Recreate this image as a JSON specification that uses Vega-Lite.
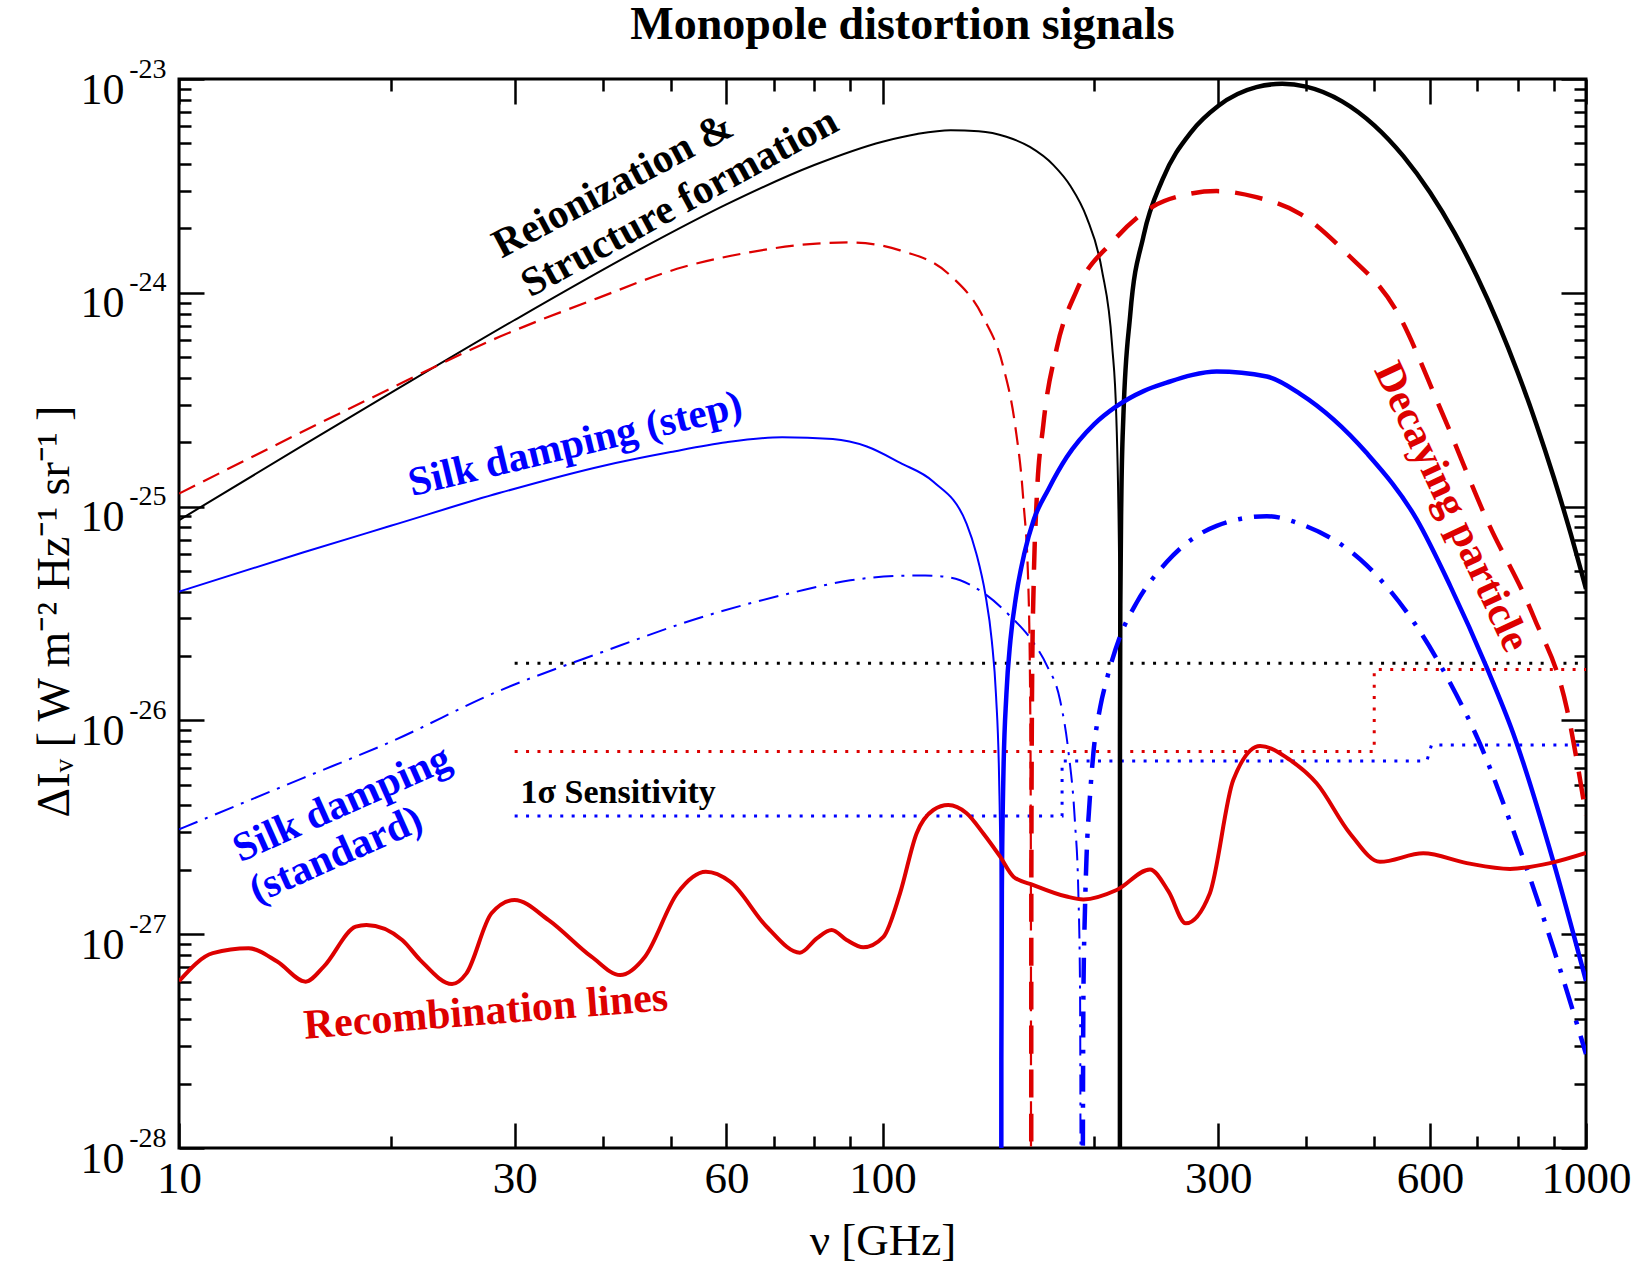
{
  "$schema": "https://vega.github.io/schema/vega-lite/v6.json",
  "width": 1407,
  "height": 1069,
  "autosize": {"type": "none"},
  "padding": {"left": 179, "top": 79, "right": 66, "bottom": 129},
  "background": "white",
  "config": {
    "view": {"stroke": "black", "strokeWidth": 3},
    "font": "Liberation Serif",
    "axis": {"domain": false, "grid": false, "tickColor": "black", "tickWidth": 2.5, "labelFont": "Liberation Serif", "labelColor": "black", "titleFont": "Liberation Serif", "titleColor": "black", "titleFontWeight": "normal", "labelOverlap": false, "labelFlush": false, "labelBound": false}
  },
  "title": {"text": "Monopole distortion signals", "font": "Liberation Serif", "fontSize": 46, "fontWeight": "bold", "color": "black", "anchor": "middle", "baseline": "alphabetic", "offset": 16, "dx": 20, "dy": 46},
  "datasets": {
    "sens_black": [{"nu": 30, "dI": 1.85e-26}, {"nu": 1000, "dI": 1.85e-26}],
    "sens_red": [{"i": 0, "nu": 30, "dI": 7.15e-27}, {"i": 1, "nu": 500, "dI": 7.15e-27}, {"i": 2, "nu": 500, "dI": 1.73e-26}, {"i": 3, "nu": 1000, "dI": 1.73e-26}],
    "sens_blue": [{"i": 0, "nu": 30, "dI": 3.57e-27}, {"i": 1, "nu": 180, "dI": 3.57e-27}, {"i": 2, "nu": 180, "dI": 6.46e-27}, {"i": 3, "nu": 594, "dI": 6.46e-27}, {"i": 4, "nu": 603, "dI": 7.67e-27}, {"i": 5, "nu": 1000, "dI": 7.67e-27}],
    "black_thin": [{"nu": 10, "dI": 8.64e-26}, {"nu": 15, "dI": 1.932e-25}, {"nu": 20, "dI": 3.40e-25}, {"nu": 30, "dI": 7.46e-25}, {"nu": 45, "dI": 1.583e-24}, {"nu": 60, "dI": 2.59e-24}, {"nu": 80, "dI": 3.96e-24}, {"nu": 100, "dI": 5.09e-24}, {"nu": 112, "dI": 5.53e-24}, {"nu": 125, "dI": 5.76e-24}, {"nu": 137, "dI": 5.70e-24}, {"nu": 150, "dI": 5.37e-24}, {"nu": 162, "dI": 4.81e-24}, {"nu": 175, "dI": 3.956e-24}, {"nu": 185, "dI": 3.158e-24}, {"nu": 195, "dI": 2.259e-24}, {"nu": 205, "dI": 1.284e-24}, {"nu": 212, "dI": 5.70e-25}, {"nu": 215, "dI": 2.58e-25}, {"nu": 217, "dI": 4.93e-26}, {"nu": 217.3, "dI": 1.77e-26}, {"nu": 217.45, "dI": 1.9e-27}, {"nu": 217.47, "dI": 1e-29}],
    "black_thick": [{"nu": 217.49, "dI": 1e-29}, {"nu": 217.55, "dI": 8.4e-27}, {"nu": 217.8, "dI": 3.46e-26}, {"nu": 218.5, "dI": 1.08e-25}, {"nu": 220, "dI": 2.66e-25}, {"nu": 225, "dI": 7.93e-25}, {"nu": 235, "dI": 1.846e-24}, {"nu": 250, "dI": 3.38e-24}, {"nu": 275, "dI": 5.68e-24}, {"nu": 300, "dI": 7.48e-24}, {"nu": 340, "dI": 9.16e-24}, {"nu": 370, "dI": 9.49e-24}, {"nu": 400, "dI": 9.21e-24}, {"nu": 450, "dI": 7.86e-24}, {"nu": 500, "dI": 6.07e-24}, {"nu": 550, "dI": 4.355e-24}, {"nu": 600, "dI": 2.95e-24}, {"nu": 650, "dI": 1.911e-24}, {"nu": 700, "dI": 1.192e-24}, {"nu": 750, "dI": 7.20e-25}, {"nu": 800, "dI": 4.23e-25}, {"nu": 850, "dI": 2.43e-25}, {"nu": 900, "dI": 1.368e-25}, {"nu": 950, "dI": 7.57e-26}, {"nu": 1000, "dI": 4.12e-26}],
    "red_thin": [{"nu": 10, "dI": 1.15e-25}, {"nu": 18.5, "dI": 3.15e-25}, {"nu": 28.6, "dI": 6.24e-25}, {"nu": 39.3, "dI": 9.42e-25}, {"nu": 52.1, "dI": 1.32e-24}, {"nu": 65, "dI": 1.55e-24}, {"nu": 80.6, "dI": 1.70e-24}, {"nu": 90, "dI": 1.72e-24}, {"nu": 105.9, "dI": 1.58e-24}, {"nu": 124.7, "dI": 1.21e-24}, {"nu": 139.1, "dI": 7.67e-25}, {"nu": 148.5, "dI": 4.50e-25}, {"nu": 154.3, "dI": 2.42e-25}, {"nu": 158.6, "dI": 1.06e-25}, {"nu": 161.2, "dI": 4.2e-26}, {"nu": 162.2, "dI": 1.1e-26}, {"nu": 162.55, "dI": 1.5e-27}, {"nu": 162.6, "dI": 1e-29}],
    "red_thick": [{"nu": 162.7, "dI": 1e-29}, {"nu": 162.75, "dI": 1.5e-27}, {"nu": 163.2, "dI": 1.6e-26}, {"nu": 164, "dI": 4.3e-26}, {"nu": 165.6, "dI": 1.06e-25}, {"nu": 169.3, "dI": 2.42e-25}, {"nu": 176.9, "dI": 5.52e-25}, {"nu": 188.9, "dI": 1.03e-24}, {"nu": 212.9, "dI": 1.75e-24}, {"nu": 242.7, "dI": 2.54e-24}, {"nu": 270, "dI": 2.88e-24}, {"nu": 298.5, "dI": 2.99e-24}, {"nu": 340, "dI": 2.8e-24}, {"nu": 392.3, "dI": 2.34e-24}, {"nu": 456.6, "dI": 1.53e-24}, {"nu": 537, "dI": 8.3e-25}, {"nu": 620, "dI": 2.9e-25}, {"nu": 722.5, "dI": 8.7e-26}, {"nu": 842, "dI": 3.07e-26}, {"nu": 939, "dI": 1.14e-26}, {"nu": 1000, "dI": 3.6e-27}],
    "blue_thin": [{"nu": 10, "dI": 4.0e-26}, {"nu": 15, "dI": 6.1e-26}, {"nu": 20, "dI": 8.13e-26}, {"nu": 28.6, "dI": 1.16e-25}, {"nu": 40, "dI": 1.55e-25}, {"nu": 50, "dI": 1.80e-25}, {"nu": 60, "dI": 2.0e-25}, {"nu": 72, "dI": 2.11e-25}, {"nu": 85, "dI": 2.07e-25}, {"nu": 95, "dI": 1.91e-25}, {"nu": 106, "dI": 1.6e-25}, {"nu": 118, "dI": 1.31e-25}, {"nu": 131.7, "dI": 8.3e-26}, {"nu": 136, "dI": 6.0e-26}, {"nu": 140, "dI": 3.9e-26}, {"nu": 143, "dI": 2.36e-26}, {"nu": 145, "dI": 1.31e-26}, {"nu": 146.5, "dI": 5.2e-27}, {"nu": 147.2, "dI": 1.6e-27}, {"nu": 147.45, "dI": 2.6e-28}, {"nu": 147.5, "dI": 1e-29}],
    "blue_thick": [{"nu": 147.5, "dI": 1e-29}, {"nu": 147.55, "dI": 2.6e-28}, {"nu": 147.8, "dI": 1.6e-27}, {"nu": 148.5, "dI": 5.3e-27}, {"nu": 150, "dI": 1.32e-26}, {"nu": 152, "dI": 2.37e-26}, {"nu": 155, "dI": 3.9e-26}, {"nu": 159, "dI": 6.0e-26}, {"nu": 164, "dI": 8.65e-26}, {"nu": 172, "dI": 1.2e-25}, {"nu": 182.7, "dI": 1.7e-25}, {"nu": 200, "dI": 2.43e-25}, {"nu": 215.2, "dI": 2.95e-25}, {"nu": 235, "dI": 3.47e-25}, {"nu": 253.5, "dI": 3.8e-25}, {"nu": 275, "dI": 4.12e-25}, {"nu": 298.5, "dI": 4.28e-25}, {"nu": 351.7, "dI": 4.06e-25}, {"nu": 392.3, "dI": 3.37e-25}, {"nu": 487.9, "dI": 1.78e-25}, {"nu": 574.6, "dI": 8.71e-26}, {"nu": 640.9, "dI": 4.27e-26}, {"nu": 722.5, "dI": 1.77e-26}, {"nu": 788.3, "dI": 8.67e-27}, {"nu": 898.5, "dI": 2.19e-27}, {"nu": 1000, "dI": 6.04e-28}],
    "bluedd_thin": [{"nu": 10, "dI": 3.09e-27}, {"nu": 15, "dI": 5.37e-27}, {"nu": 20, "dI": 7.94e-27}, {"nu": 28.6, "dI": 1.38e-26}, {"nu": 40, "dI": 2.09e-26}, {"nu": 55, "dI": 3.02e-26}, {"nu": 75, "dI": 3.98e-26}, {"nu": 90, "dI": 4.52e-26}, {"nu": 106, "dI": 4.75e-26}, {"nu": 115, "dI": 4.76e-26}, {"nu": 124.7, "dI": 4.66e-26}, {"nu": 139.1, "dI": 3.95e-26}, {"nu": 151.8, "dI": 3.08e-26}, {"nu": 163.9, "dI": 2.31e-26}, {"nu": 171.2, "dI": 1.81e-26}, {"nu": 178.8, "dI": 1.245e-26}, {"nu": 183.7, "dI": 7.24e-27}, {"nu": 187.8, "dI": 3.3e-27}, {"nu": 189.8, "dI": 1.6e-27}, {"nu": 190.9, "dI": 5.5e-28}, {"nu": 191.4, "dI": 1e-29}],
    "bluedd_thick": [{"nu": 192.4, "dI": 1e-29}, {"nu": 193.0, "dI": 5e-28}, {"nu": 194.0, "dI": 1.3e-27}, {"nu": 195.0, "dI": 2.3e-27}, {"nu": 197.0, "dI": 4.2e-27}, {"nu": 199.4, "dI": 7.0e-27}, {"nu": 204, "dI": 1.16e-26}, {"nu": 208.3, "dI": 1.55e-26}, {"nu": 217.6, "dI": 2.47e-26}, {"nu": 229.8, "dI": 3.56e-26}, {"nu": 253.5, "dI": 5.5e-26}, {"nu": 298.5, "dI": 8.13e-26}, {"nu": 351.7, "dI": 9.02e-26}, {"nu": 392.3, "dI": 8.3e-26}, {"nu": 487.9, "dI": 5.31e-26}, {"nu": 574.6, "dI": 2.75e-26}, {"nu": 640.9, "dI": 1.5e-26}, {"nu": 706.9, "dI": 7.76e-27}, {"nu": 788.3, "dI": 3.05e-27}, {"nu": 898.5, "dI": 8.63e-28}, {"nu": 1000, "dI": 2.75e-28}],
    "recomb": [{"nu": 10, "dI": 6.03e-28}, {"nu": 11.17, "dI": 8.15e-28}, {"nu": 12.56, "dI": 8.59e-28}, {"nu": 13.79, "dI": 7.45e-28}, {"nu": 15.14, "dI": 6.0e-28}, {"nu": 16.06, "dI": 7.05e-28}, {"nu": 17.83, "dI": 1.084e-27}, {"nu": 18.47, "dI": 1.104e-27}, {"nu": 20.76, "dI": 9.4e-28}, {"nu": 22.01, "dI": 7.59e-28}, {"nu": 24.44, "dI": 5.85e-28}, {"nu": 25.62, "dI": 6.56e-28}, {"nu": 27.81, "dI": 1.253e-27}, {"nu": 29.99, "dI": 1.445e-27}, {"nu": 33.53, "dI": 1.164e-27}, {"nu": 38.57, "dI": 7.85e-28}, {"nu": 42.37, "dI": 6.44e-28}, {"nu": 45.96, "dI": 7.85e-28}, {"nu": 51.07, "dI": 1.552e-27}, {"nu": 56.09, "dI": 1.959e-27}, {"nu": 60.72, "dI": 1.762e-27}, {"nu": 68.45, "dI": 1.084e-27}, {"nu": 76.32, "dI": 8.2e-28}, {"nu": 80.65, "dI": 9.57e-28}, {"nu": 84.68, "dI": 1.047e-27}, {"nu": 88.93, "dI": 9.4e-28}, {"nu": 93.9, "dI": 8.69e-28}, {"nu": 100.3, "dI": 9.72e-28}, {"nu": 105.9, "dI": 1.552e-27}, {"nu": 111.8, "dI": 2.96e-27}, {"nu": 118.1, "dI": 3.81e-27}, {"nu": 124, "dI": 4.02e-27}, {"nu": 131.7, "dI": 3.68e-27}, {"nu": 139.1, "dI": 2.96e-27}, {"nu": 146.9, "dI": 2.31e-27}, {"nu": 153.5, "dI": 1.858e-27}, {"nu": 163.9, "dI": 1.698e-27}, {"nu": 182.7, "dI": 1.5e-27}, {"nu": 193, "dI": 1.455e-27}, {"nu": 215.2, "dI": 1.61e-27}, {"nu": 240, "dI": 2.01e-27}, {"nu": 255, "dI": 1.585e-27}, {"nu": 269.8, "dI": 1.125e-27}, {"nu": 291.9, "dI": 1.552e-27}, {"nu": 315.2, "dI": 5.26e-27}, {"nu": 344.1, "dI": 7.59e-27}, {"nu": 379.5, "dI": 6.53e-27}, {"nu": 414.1, "dI": 5.08e-27}, {"nu": 461.9, "dI": 2.96e-27}, {"nu": 509.5, "dI": 2.18e-27}, {"nu": 587.1, "dI": 2.39e-27}, {"nu": 676.9, "dI": 2.15e-27}, {"nu": 779.8, "dI": 2.02e-27}, {"nu": 888.9, "dI": 2.15e-27}, {"nu": 1000, "dI": 2.4e-27}],
    "lab_reion1": [{"label": "Reionization &", "nu": 41.4, "dI": 3.16e-24}],
    "lab_reion2": [{"label": "Structure formation", "nu": 51.5, "dI": 2.63e-24}],
    "lab_silkstep": [{"label": "Silk damping (step)", "nu": 36.6, "dI": 1.95e-25}],
    "lab_silkstd1": [{"label": "Silk damping", "nu": 17.05, "dI": 4.06e-27}],
    "lab_silkstd2": [{"label": "(standard)", "nu": 16.72, "dI": 2.34e-27}],
    "lab_recomb": [{"label": "Recombination lines", "nu": 27.3, "dI": 4.35e-28}],
    "lab_decay": [{"label": "Decaying particle", "nu": 644.5, "dI": 1.0e-25}],
    "lab_sens": [{"label": "1σ Sensitivity", "nu": 42.1, "dI": 4.57e-27}]
  },
  "encoding": {
    "x": {"field": "nu", "type": "quantitative", "scale": {"type": "log", "domain": [10, 1000], "nice": false}, "axis": null},
    "y": {"field": "dI", "type": "quantitative", "scale": {"type": "log", "domain": [1e-28, 1e-23], "nice": false}, "axis": null}
  },
  "layer": [
    {
      "data": {"name": "sens_black"},
      "mark": {"type": "line", "color": "black", "strokeWidth": 3, "strokeDash": [3, 8.4], "clip": true},
      "encoding": {
        "x": {"field": "nu", "type": "quantitative", "scale": {"type": "log", "domain": [10, 1000], "nice": false},
          "axis": {"orient": "bottom", "values": [10, 30, 60, 100, 300, 600, 1000], "tickSize": -25, "labelExpr": "'' + datum.value", "labelFontSize": 45, "labelPadding": 33, "labelBaseline": "top", "title": "ν [GHz]", "titleFontSize": 45, "titleBaseline": "top", "titleY": 70}},
        "y": {"field": "dI", "type": "quantitative", "scale": {"type": "log", "domain": [1e-28, 1e-23], "nice": false},
          "axis": {"orient": "left", "values": [1e-28, 1e-27, 1e-26, 1e-25, 1e-24, 1e-23], "tickSize": -25, "labelExpr": "'10'", "labelFontSize": 44, "labelPadding": 80, "labelAlign": "right", "labelBaseline": "alphabetic", "labelOffset": 24, "title": "ΔIᵥ [ W m⁻² Hz⁻¹ sr⁻¹ ]", "titleFontSize": 46, "titleAngle": -90, "titleX": -111, "titleY": 532, "titleAlign": "center", "titleBaseline": "alphabetic"}}
      }
    },
    {
      "data": {"name": "sens_red"},
      "mark": {"type": "line", "color": "#dd0000", "strokeWidth": 3, "strokeDash": [3, 8.4], "clip": true},
      "encoding": {
        "x": {"field": "nu", "type": "quantitative", "scale": {"type": "log", "domain": [10, 1000], "nice": false},
          "axis": {"orient": "bottom", "values": [20, 40, 50, 70, 80, 90, 200, 400, 500, 700, 800, 900], "tickSize": -12, "labels": false, "title": null}},
        "y": {"field": "dI", "type": "quantitative", "scale": {"type": "log", "domain": [1e-28, 1e-23], "nice": false},
          "axis": {"orient": "left", "values": [2e-28, 3e-28, 4e-28, 5e-28, 6e-28, 7e-28, 8e-28, 9e-28, 2e-27, 3e-27, 4e-27, 5e-27, 6e-27, 7e-27, 8e-27, 9e-27, 2e-26, 3e-26, 4e-26, 5e-26, 6e-26, 7e-26, 8e-26, 9e-26, 2e-25, 3e-25, 4e-25, 5e-25, 6e-25, 7e-25, 8e-25, 9e-25, 2e-24, 3e-24, 4e-24, 5e-24, 6e-24, 7e-24, 8e-24, 9e-24], "tickSize": -12, "labels": false, "title": null}},
        "order": {"field": "i", "type": "quantitative"}
      }
    },
    {
      "data": {"name": "sens_blue"},
      "mark": {"type": "line", "color": "#0000ff", "strokeWidth": 3, "strokeDash": [3, 8.4], "clip": true},
      "encoding": {
        "x": {"field": "nu", "type": "quantitative", "scale": {"type": "log", "domain": [10, 1000], "nice": false},
          "axis": {"orient": "top", "values": [10, 30, 60, 100, 300, 600, 1000], "tickSize": -25, "labels": false, "title": null}},
        "y": {"field": "dI", "type": "quantitative", "scale": {"type": "log", "domain": [1e-28, 1e-23], "nice": false},
          "axis": {"orient": "right", "values": [1e-28, 1e-27, 1e-26, 1e-25, 1e-24, 1e-23], "tickSize": -25, "labels": false, "title": null}},
        "order": {"field": "i", "type": "quantitative"}
      }
    },
    {
      "data": {"name": "black_thin"},
      "mark": {"type": "line", "color": "black", "strokeWidth": 2, "interpolate": "monotone", "clip": true},
      "encoding": {
        "x": {"field": "nu", "type": "quantitative", "scale": {"type": "log", "domain": [10, 1000], "nice": false},
          "axis": {"orient": "top", "values": [20, 40, 50, 70, 80, 90, 200, 400, 500, 700, 800, 900], "tickSize": -12, "labels": false, "title": null}},
        "y": {"field": "dI", "type": "quantitative", "scale": {"type": "log", "domain": [1e-28, 1e-23], "nice": false},
          "axis": {"orient": "right", "values": [2e-28, 3e-28, 4e-28, 5e-28, 6e-28, 7e-28, 8e-28, 9e-28, 2e-27, 3e-27, 4e-27, 5e-27, 6e-27, 7e-27, 8e-27, 9e-27, 2e-26, 3e-26, 4e-26, 5e-26, 6e-26, 7e-26, 8e-26, 9e-26, 2e-25, 3e-25, 4e-25, 5e-25, 6e-25, 7e-25, 8e-25, 9e-25, 2e-24, 3e-24, 4e-24, 5e-24, 6e-24, 7e-24, 8e-24, 9e-24], "tickSize": -12, "labels": false, "title": null}}
      }
    },
    {
      "data": {"name": "red_thin"},
      "mark": {"type": "line", "color": "#dd0000", "strokeWidth": 2.2, "strokeDash": [18, 9], "interpolate": "monotone", "clip": true},
      "encoding": {
        "y": {"field": "dI", "type": "quantitative", "scale": {"type": "log", "domain": [1e-28, 1e-23], "nice": false},
          "axis": {"orient": "left", "values": [1e-28, 1e-27, 1e-26, 1e-25, 1e-24, 1e-23], "ticks": false, "tickSize": 0, "labelExpr": "datum.value > 5e-24 ? '-23' : datum.value > 5e-25 ? '-24' : datum.value > 5e-26 ? '-25' : datum.value > 5e-27 ? '-26' : datum.value > 5e-28 ? '-27' : '-28'", "labelFontSize": 28, "labelPadding": 13, "labelAlign": "right", "labelBaseline": "alphabetic", "labelOffset": -2, "title": null}}
      }
    },
    {"data": {"name": "blue_thin"}, "mark": {"type": "line", "color": "#0000ff", "strokeWidth": 2, "interpolate": "monotone", "clip": true}},
    {"data": {"name": "bluedd_thin"}, "mark": {"type": "line", "color": "#0000ff", "strokeWidth": 2, "strokeDash": [20, 8, 3, 8], "interpolate": "monotone", "clip": true}},
    {"data": {"name": "black_thick"}, "mark": {"type": "line", "color": "black", "strokeWidth": 4.5, "interpolate": "monotone", "clip": true}},
    {"data": {"name": "red_thick"}, "mark": {"type": "line", "color": "#dd0000", "strokeWidth": 4.5, "strokeDash": [28, 16], "interpolate": "monotone", "clip": true}},
    {"data": {"name": "blue_thick"}, "mark": {"type": "line", "color": "#0000ff", "strokeWidth": 4.5, "interpolate": "monotone", "clip": true}},
    {"data": {"name": "bluedd_thick"}, "mark": {"type": "line", "color": "#0000ff", "strokeWidth": 4.5, "strokeDash": [26, 12, 4, 12], "interpolate": "monotone", "clip": true}},
    {"data": {"name": "recomb"}, "mark": {"type": "line", "color": "#dd0000", "strokeWidth": 4, "interpolate": "monotone", "clip": true}},
    {"data": {"name": "lab_reion1"}, "mark": {"type": "text", "font": "Liberation Serif", "fontWeight": "bold", "fontSize": 41, "angle": -28, "color": "black", "align": "center", "baseline": "middle"}, "encoding": {"text": {"field": "label"}}},
    {"data": {"name": "lab_reion2"}, "mark": {"type": "text", "font": "Liberation Serif", "fontWeight": "bold", "fontSize": 41, "angle": -28.5, "color": "black", "align": "center", "baseline": "middle"}, "encoding": {"text": {"field": "label"}}},
    {"data": {"name": "lab_silkstep"}, "mark": {"type": "text", "font": "Liberation Serif", "fontWeight": "bold", "fontSize": 41, "angle": -13.5, "color": "#0000ff", "align": "center", "baseline": "middle"}, "encoding": {"text": {"field": "label"}}},
    {"data": {"name": "lab_silkstd1"}, "mark": {"type": "text", "font": "Liberation Serif", "fontWeight": "bold", "fontSize": 41, "angle": -24, "color": "#0000ff", "align": "center", "baseline": "middle"}, "encoding": {"text": {"field": "label"}}},
    {"data": {"name": "lab_silkstd2"}, "mark": {"type": "text", "font": "Liberation Serif", "fontWeight": "bold", "fontSize": 41, "angle": -24, "color": "#0000ff", "align": "center", "baseline": "middle"}, "encoding": {"text": {"field": "label"}}},
    {"data": {"name": "lab_recomb"}, "mark": {"type": "text", "font": "Liberation Serif", "fontWeight": "bold", "fontSize": 42, "angle": -4.5, "color": "#dd0000", "align": "center", "baseline": "middle"}, "encoding": {"text": {"field": "label"}}},
    {"data": {"name": "lab_decay"}, "mark": {"type": "text", "font": "Liberation Serif", "fontWeight": "bold", "fontSize": 42, "angle": 65, "color": "#dd0000", "align": "center", "baseline": "middle"}, "encoding": {"text": {"field": "label"}}},
    {"data": {"name": "lab_sens"}, "mark": {"type": "text", "font": "Liberation Serif", "fontWeight": "bold", "fontSize": 34, "angle": 0, "color": "black", "align": "center", "baseline": "middle"}, "encoding": {"text": {"field": "label"}}}
  ],
  "resolve": {"axis": {"x": "independent", "y": "independent"}}
}
